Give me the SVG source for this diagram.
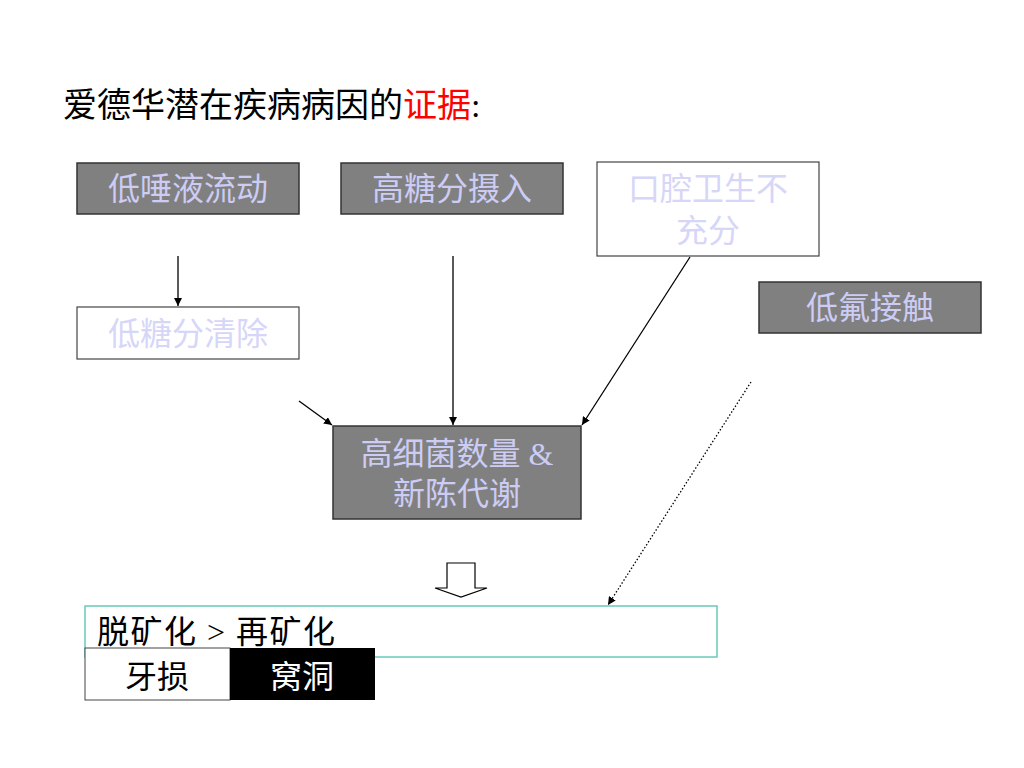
<svg xmlns="http://www.w3.org/2000/svg" width="1024" height="768" viewBox="0 0 1024 768">
<style>
.cjk{font-family:"Liberation Serif","Noto Sans CJK SC",serif}
.gray{fill:#808080;stroke:#333;stroke-width:1.5}
.white{fill:#fff;stroke:#444;stroke-width:1.2}
.lt{fill:#ccccf4;font-size:32px;text-anchor:middle}
.lw{fill:#d6d6f8;font-size:32px;text-anchor:middle}
.conn{stroke:#000;stroke-width:1.3;fill:none}
</style>
<defs>
<marker id="ah" viewBox="0 0 10 10" refX="10" refY="5" markerWidth="8" markerHeight="8" markerUnits="userSpaceOnUse" orient="auto"><path d="M0,0 L10,5 L0,10 z" fill="#000"/></marker>
</defs>
<rect width="1024" height="768" fill="#fff"/>
<text x="63" y="117" class="cjk" font-size="34" fill="#000">爱德华潜在疾病病因的<tspan fill="#ff0000">证据</tspan>:</text>

<g id="n1"><rect x="77" y="163" width="222" height="51" class="gray"/><text x="188" y="200" class="cjk lt">低唾液流动</text></g>
<g id="n2"><rect x="341" y="163" width="222" height="51" class="gray"/><text x="452" y="200" class="cjk lt">高糖分摄入</text></g>
<g id="n3"><rect x="597" y="162" width="222" height="94" class="white"/><text x="708" y="200" class="cjk lw">口腔卫生不</text><text x="708" y="242" class="cjk lw">充分</text></g>
<g id="n4"><rect x="759" y="282" width="222" height="51" class="gray"/><text x="870" y="319" class="cjk lt">低氟接触</text></g>
<g id="n5"><rect x="77" y="307" width="222" height="52" class="white"/><text x="188" y="345" class="cjk lw">低糖分清除</text></g>
<g id="n6"><rect x="333" y="426" width="248" height="93" class="gray"/><text x="457" y="465" class="cjk lt">高细菌数量 &amp;</text><text x="457" y="505" class="cjk lt">新陈代谢</text></g>

<g id="connectors">
<line x1="178" y1="256" x2="178" y2="306" class="conn" marker-end="url(#ah)"/>
<line x1="453" y1="256" x2="453" y2="425" class="conn" marker-end="url(#ah)"/>
<line x1="690" y1="257" x2="582" y2="425" class="conn" marker-end="url(#ah)"/>
<line x1="299" y1="401" x2="332" y2="425" class="conn" marker-end="url(#ah)"/>
<line x1="751" y1="382" x2="608" y2="605" class="conn" stroke-dasharray="1.5,2" marker-end="url(#ah)"/>
<path d="M447,563 L475,563 L475,588 L487,588 L461,597 L435,588 L447,588 Z" fill="#fff" stroke="#000" stroke-width="1.2"/>
</g>

<g id="n7"><rect x="85" y="606" width="632" height="51" fill="#fff" stroke="#66ccbb" stroke-width="1.5"/><text x="97" y="643" class="cjk" font-size="32" fill="#000" textLength="238" lengthAdjust="spacing">脱矿化 &gt; 再矿化</text></g>
<g id="n8"><rect x="85" y="648" width="145" height="52" fill="#fff" stroke="#444" stroke-width="1"/><text x="157" y="688" class="cjk" font-size="32" fill="#000" text-anchor="middle">牙损</text></g>
<g id="n9"><rect x="230" y="648" width="145" height="52" fill="#000"/><text x="302" y="688" class="cjk" font-size="32" fill="#fff" text-anchor="middle">窝洞</text></g>
</svg>
